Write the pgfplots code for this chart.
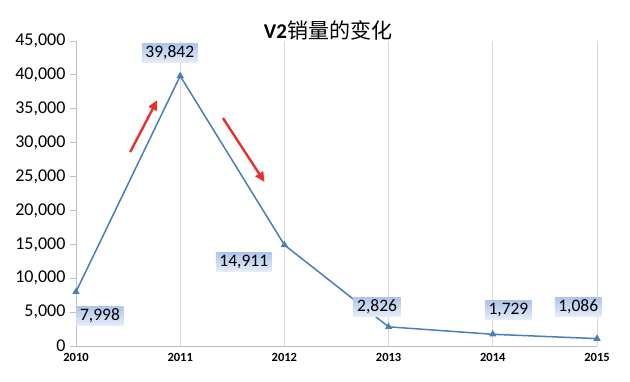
\documentclass[border=0pt]{standalone}
\usepackage{pgfplots}
\pgfplotsset{compat=1.18}
\usepackage{fontspec}
\setmainfont{Carlito}
\newfontfamily\cjk{Noto Sans CJK SC}
\usetikzlibrary{arrows.meta}
\definecolor{linecol}{HTML}{4A7EBB}
\definecolor{axcol}{HTML}{BFBFBF}
\definecolor{gridcol}{HTML}{D9D9D9}
\definecolor{boxtop}{HTML}{AFC5EA}
\definecolor{boxbot}{HTML}{E6EDF8}
\definecolor{arrowred}{HTML}{E8302C}
\begin{document}
\begin{tikzpicture}
\begin{axis}[
  scale only axis,
  width=521pt, height=305pt,
  xmin=2010, xmax=2015, ymin=0, ymax=45000,
  xtick={2010,2011,2012,2013,2014,2015},
  ytick={0,5000,10000,15000,20000,25000,30000,35000,40000,45000},
  axis lines*=left,
  axis line style={axcol, line width=0.8pt},
  xmajorgrids, grid style={gridcol, line width=0.8pt},
  tick align=outside,
  major tick length=6pt,
  ytick style={axcol, line width=0.8pt},
  xtick style={draw=none},
  /pgf/number format/assume math mode=true,
  xticklabel style={/pgf/number format/1000 sep={}, font=\fontsize{12.5}{14}\selectfont\bfseries, yshift=2pt},
  yticklabel style={/pgf/number format/1000 sep={,}, font=\fontsize{18}{20}\selectfont, xshift=-1pt},
  scaled y ticks=false,
  clip=false,
]
\addplot[linecol, line width=1.5pt, mark=triangle*, mark size=2.8pt, mark options={linecol}] coordinates {
  (2010,7998) (2011,39842) (2012,14911) (2013,2826) (2014,1729) (2015,1086)
};
% data labels placed beside the points
\addplot[draw=none, mark=none, point meta=explicit,
  nodes near coords={\pgfmathprintnumber[1000 sep={,},assume math mode=true]{\pgfplotspointmeta}},
  nodes near coords align=center,
  every node near coord/.style={anchor=center, top color=boxtop, bottom color=boxbot, inner xsep=3.5pt, inner ysep=2.5pt, font=\fontsize{17.5}{19}\selectfont, text=black}
] coordinates {
  (2010.23,4425) [7998]
  (2010.90,43220) [39842]
  (2011.61,12390) [14911]
  (2012.89,5750) [2826]
  (2014.15,5310) [1729]
  (2014.82,5750) [1086]
};
\draw[arrowred, line width=2.4pt, -{Triangle[length=10pt,width=9pt]}] (axis cs:2010.52,28615) -- (axis cs:2010.78,36290);
\draw[arrowred, line width=2.4pt, -{Triangle[length=10pt,width=9pt]}] (axis cs:2011.41,33630) -- (axis cs:2011.81,24190);
\end{axis}
\node[anchor=center, font=\fontsize{21}{23}\selectfont] at (252pt,316pt) {\textbf{V2}{\cjk 销量的变化}};
\useasboundingbox (-76pt,-36pt) rectangle (554pt,346pt);
\end{tikzpicture}
\end{document}
